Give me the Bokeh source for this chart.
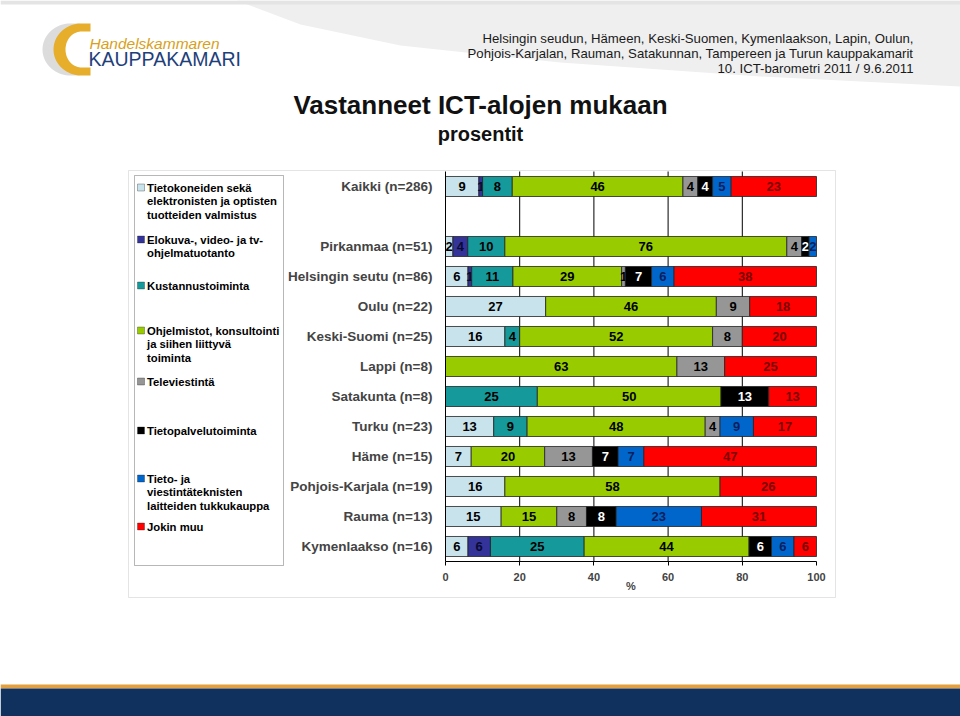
import numpy as np
from bokeh.plotting import figure
from bokeh.models import (Range1d, FixedTicker, Label, BoxAnnotation, LinearAxis,
                          PolyAnnotation, ColumnDataSource)
from bokeh.core.properties import value
from bokeh.embed import file_html
from bokeh.resources import INLINE

# ---------------- data ----------------
categories = ["Kaikki (n=286)", "", "Pirkanmaa (n=51)", "Helsingin seutu (n=86)",
              "Oulu (n=22)", "Keski-Suomi (n=25)", "Lappi (n=8)", "Satakunta (n=8)",
              "Turku (n=23)", "Häme (n=15)", "Pohjois-Karjala (n=19)", "Rauma (n=13)",
              "Kymenlaakso (n=16)"]

series_names = ["Tietokoneiden sekä elektronisten ja optisten tuotteiden valmistus",
                "Elokuva-, video- ja tv-ohjelmatuotanto",
                "Kustannustoiminta",
                "Ohjelmistot, konsultointi ja siihen liittyvä toiminta",
                "Televiestintä",
                "Tietopalvelutoiminta",
                "Tieto- ja viestintäteknisten laitteiden tukkukauppa",
                "Jokin muu"]

tietokoneet   = [9, 2, 6, 27, 16, 0, 0, 13, 7, 16, 15, 6]
elokuva       = [1, 4, 1, 0, 0, 0, 0, 0, 0, 0, 0, 6]
kustannus     = [8, 10, 11, 0, 4, 0, 25, 9, 0, 0, 0, 25]
ohjelmistot   = [46, 76, 29, 46, 52, 63, 50, 48, 20, 58, 15, 44]
televiestinta = [4, 4, 1, 9, 8, 13, 0, 4, 13, 0, 8, 0]
tietopalvelu  = [4, 2, 7, 0, 0, 0, 13, 0, 7, 0, 8, 6]
tukkukauppa   = [5, 2, 6, 0, 0, 0, 0, 9, 7, 0, 23, 6]
jokin_muu     = [23, 0, 38, 18, 20, 25, 13, 17, 47, 26, 31, 6]

series_values = [tietokoneet, elokuva, kustannus, ohjelmistot,
                 televiestinta, tietopalvelu, tukkukauppa, jokin_muu]

x_ticks = [0, 20, 40, 60, 80, 100]

# ---------------- styles ----------------
colors = ["#C8E3EB", "#333399", "#16999B", "#99CC00", "#969696", "#000000", "#0066CC", "#FF0000"]
label_colors = ["#000000", "#0A0A30", "#000000", "#000000", "#000000", "#FFFFFF", "#0A1F5C", "#7A0000"]
FONT = "Liberation Sans"

W, H = 960, 716
PX0, PX100 = 445.0, 816.0     # page x of 0 % and 100 %
ROW0_Y, ROW_H = 546.0, 30.0   # page y of the lowest row centre, row pitch


def dx(X):
    return (X - PX0) / ((PX100 - PX0) / 100.0)


def dy(Y):
    return (ROW0_Y - Y) / ROW_H


p = figure(width=W, height=H, output_backend="svg", toolbar_location=None,
           x_range=Range1d(dx(0), dx(W)), y_range=Range1d(dy(H), dy(0)),
           x_axis_type=None, y_axis_type=None, min_border=0)
p.outline_line_color = None
p.background_fill_color = "white"
p.border_fill_color = "white"
p.grid.visible = False

# ---------------- decoration: header / footer ----------------
p.add_layout(PolyAnnotation(xs=[dx(v) for v in [236, 960, 960, 760, 560, 400, 300]],
                            ys=[dy(v) for v in [0, 0, 86, 76, 62, 45, 24]],
                            fill_color="#EFEFEF", fill_alpha=1.0, line_color=None))
p.add_layout(BoxAnnotation(left=dx(0), right=dx(W), top=dy(0), bottom=dy(4),
                           fill_color="#E4E4E4", fill_alpha=1, line_color=None))
p.add_layout(BoxAnnotation(left=dx(0), right=dx(W), top=dy(684), bottom=dy(688),
                           fill_color="#E2A040", fill_alpha=1, line_color=None))
p.add_layout(BoxAnnotation(left=dx(0), right=dx(W), top=dy(688), bottom=dy(H),
                           fill_color="#10305E", fill_alpha=1, line_color=None))


def c_shape(cx, cy):
    t_out = np.linspace(np.pi / 2, 3 * np.pi / 2, 40)
    t_in = t_out[::-1]
    xs = [cx + 9] + list(cx + 28 * np.cos(t_out)) + [cx + 9, cx + 9] + list(cx + 16 * np.cos(t_in)) + [cx + 9]
    ys = [cy - 26] + list(cy - 26 * np.sin(t_out)) + [cy + 26, cy + 18] + list(cy - 18 * np.sin(t_in)) + [cy - 18]
    return xs, ys


sx, sy = c_shape(70, 49)
p.add_layout(PolyAnnotation(xs=[dx(v) for v in sx], ys=[dy(v) for v in sy],
                            fill_color="#DCDCDC", fill_alpha=1, line_color=None))
gx, gy = c_shape(81, 49)
p.add_layout(PolyAnnotation(xs=[dx(v) for v in gx], ys=[dy(v) for v in gy],
                            fill_color="#E6AE2A", fill_alpha=1, line_color=None))


def add_label(text, X, Y, size, align="left", style="normal", color="#000000", font=FONT):
    p.add_layout(Label(x=dx(X), y=dy(Y), text=text, text_font=font, text_font_size=size,
                       text_font_style=style, text_color=color, text_align=align,
                       text_baseline="middle"))


add_label("Handelskammaren", 89, 43, "15.5px", style="italic", color="#D9A020")
add_label("KAUPPAKAMARI", 88, 58, "19.5px", color="#1F3F7A")

add_label("Helsingin seudun, Hämeen, Keski-Suomen, Kymenlaakson, Lapin, Oulun,", 913, 38, "13.2px", align="right", color="#1A1A1A")
add_label("Pohjois-Karjalan, Rauman, Satakunnan, Tampereen ja Turun kauppakamarit", 913, 53, "13.2px", align="right", color="#1A1A1A")
add_label("10. ICT-barometri 2011 / 9.6.2011", 913, 68, "13.2px", align="right", color="#1A1A1A")

add_label("Vastanneet ICT-alojen mukaan", 480, 104, "26px", align="center", style="bold", color="#111111")
add_label("prosentit", 480, 133, "20px", align="center", style="bold", color="#111111")

# ---------------- chart frame + legend box ----------------
p.add_layout(BoxAnnotation(left=dx(128), right=dx(835), top=dy(170), bottom=dy(597),
                           fill_color="white", fill_alpha=1, line_color="#A6A6A6", line_width=1,
                           level="underlay"))
p.add_layout(BoxAnnotation(left=dx(134), right=dx(283), top=dy(175), bottom=dy(565),
                           fill_color="white", fill_alpha=1, line_color="#111111", line_width=1))

legend_lines = [
    (187, ["Tietokoneiden sekä", "elektronisten ja optisten", "tuotteiden valmistus"]),
    (239, ["Elokuva-, video- ja tv-", "ohjelmatuotanto"]),
    (285, ["Kustannustoiminta"]),
    (330, ["Ohjelmistot, konsultointi", "ja siihen liittyvä", "toiminta"]),
    (381, ["Televiestintä"]),
    (430, ["Tietopalvelutoiminta"]),
    (478, ["Tieto- ja", "viestintäteknisten", "laitteiden tukkukauppa"]),
    (526, ["Jokin muu"]),
]
for (y0, lines), col in zip(legend_lines, colors):
    p.add_layout(BoxAnnotation(left=dx(137), right=dx(144), top=dy(y0 - 3.5), bottom=dy(y0 + 3.5),
                               fill_color=col, fill_alpha=1, line_color="#111111", line_width=1))
    for k, t in enumerate(lines):
        add_label(t, 146.5, y0 + k * 13.7, "11.3px", style="bold", color="#000000")

# ---------------- bars ----------------
n = len(categories)
positions = {c: n - 1 - i for i, c in enumerate(categories)}
rows = [c for c in categories if c]
row_pos = np.array([positions[c] for c in rows], dtype=float)

vals = np.array(series_values, dtype=float)          # (series, rows)
totals = vals.sum(axis=0)
pct = vals / totals * 100.0
lefts = np.vstack([np.zeros(len(rows)), np.cumsum(pct, axis=0)[:-1]])
rights = lefts + pct

y_lo, y_hi = -0.5, n - 0.5
grid_x = x_ticks[1:-1]
p.segment(x0=grid_x, x1=grid_x, y0=[y_lo] * len(grid_x), y1=[y_hi] * len(grid_x),
          line_color="#000000", line_width=1)

for i in range(len(series_values)):
    keep = vals[i] > 0
    src = ColumnDataSource(dict(
        y=row_pos[keep],
        left=lefts[i][keep], right=rights[i][keep],
        mid=((lefts[i] + rights[i]) / 2)[keep],
        txt=[str(int(v)) for v in vals[i][keep]],
    ))
    p.hbar(y="y", left="left", right="right", height=0.667, source=src,
           fill_color=colors[i], line_color="#222222", line_width=0.8)
    p.text(x="mid", y="y", text="txt", source=src, text_align="center",
           text_baseline="middle", text_font=value(FONT), text_font_style="bold",
           text_font_size=value("13px"), text_color=label_colors[i])

# ---------------- axes ----------------
xa = LinearAxis(fixed_location=y_lo, bounds=(0, 100), ticker=FixedTicker(ticks=x_ticks))
xa.axis_line_color = "#000000"
xa.major_tick_line_color = "#000000"
xa.major_tick_out = 4
xa.major_tick_in = 0
xa.minor_tick_line_color = None
xa.major_label_text_font = FONT
xa.major_label_text_font_style = "bold"
xa.major_label_text_font_size = "11px"
xa.major_label_standoff = 7
xa.axis_label = "%"
xa.axis_label_text_font = FONT
xa.axis_label_text_font_style = "bold"
xa.axis_label_text_font_size = "11px"
xa.axis_label_standoff = -4
p.add_layout(xa, "below")

ya = LinearAxis(fixed_location=0, bounds=(y_lo, y_hi),
                ticker=FixedTicker(ticks=[positions[c] for c in rows]))
ya.major_label_overrides = {positions[c]: c for c in rows}
ya.axis_line_color = "#000000"
ya.major_tick_line_color = None
ya.minor_tick_line_color = None
ya.major_label_text_font = FONT
ya.major_label_text_font_style = "bold"
ya.major_label_text_font_size = "13.5px"
ya.major_label_standoff = 7
p.add_layout(ya, "left")

open("out.html", "w").write(file_html(p, INLINE))
